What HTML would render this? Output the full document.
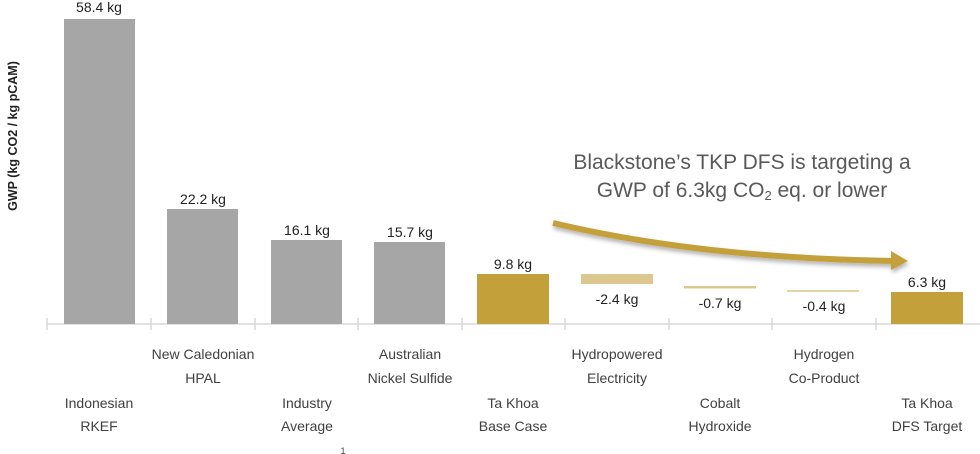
<!DOCTYPE html>
<html><head><meta charset="utf-8"><style>
html,body{margin:0;padding:0;background:#fff;}
svg{display:block;}
text{font-family:"Liberation Sans",sans-serif;}
</style></head><body>
<svg width="980" height="454" viewBox="0 0 980 454" xmlns="http://www.w3.org/2000/svg">
<defs>
<filter id="sh" x="-10%" y="-50%" width="120%" height="200%">
<feDropShadow dx="1" dy="3" stdDeviation="2" flood-color="#000" flood-opacity="0.3"/>
</filter>
</defs>
<line x1="47" y1="324" x2="980" y2="324" stroke="#d9d9d9" stroke-width="1.5"/>
<g stroke="#d9d9d9" stroke-width="1.5">
<line x1="47" y1="318" x2="47" y2="330"/><line x1="151" y1="318" x2="151" y2="330"/>
<line x1="255" y1="318" x2="255" y2="330"/><line x1="358" y1="318" x2="358" y2="330"/>
<line x1="462" y1="318" x2="462" y2="330"/><line x1="565" y1="318" x2="565" y2="330"/>
<line x1="669" y1="318" x2="669" y2="330"/><line x1="772" y1="318" x2="772" y2="330"/>
<line x1="876" y1="318" x2="876" y2="330"/>
</g>
<rect x="64" y="19" width="71" height="305" fill="#a6a6a6"/>
<rect x="167" y="209" width="71" height="115" fill="#a6a6a6"/>
<rect x="271" y="240" width="71" height="84" fill="#a6a6a6"/>
<rect x="374" y="242" width="71" height="82" fill="#a6a6a6"/>
<rect x="477" y="274" width="72" height="50" fill="#c4a03a"/>
<rect x="581" y="274" width="72" height="10" fill="#dcc88e"/>
<rect x="684" y="286" width="72" height="2.5" fill="#dcc88e"/>
<rect x="787" y="290" width="72" height="2" fill="#e3d3a3"/>
<rect x="891" y="292" width="72" height="32" fill="#c4a03a"/>
<g font-size="14" fill="#222" text-anchor="middle">
<text x="99" y="12">58.4 kg</text>
<text x="203" y="204">22.2 kg</text>
<text x="307" y="235">16.1 kg</text>
<text x="410" y="237">15.7 kg</text>
<text x="513" y="269">9.8 kg</text>
<text x="617" y="304">-2.4 kg</text>
<text x="720" y="308">-0.7 kg</text>
<text x="824" y="311">-0.4 kg</text>
<text x="927" y="287">6.3 kg</text>
</g>
<g font-size="14" fill="#404040" text-anchor="middle">
<text x="99" y="408">Indonesian</text><text x="99" y="431">RKEF</text>
<text x="203" y="359">New Caledonian</text><text x="203" y="383">HPAL</text>
<text x="307" y="408">Industry</text><text x="307" y="431">Average</text>
<text x="343" y="454" font-size="9">1</text>
<text x="410" y="359">Australian</text><text x="410" y="383">Nickel Sulfide</text>
<text x="513" y="408">Ta Khoa</text><text x="513" y="431">Base Case</text>
<text x="617" y="359">Hydropowered</text><text x="617" y="383">Electricity</text>
<text x="720" y="408">Cobalt</text><text x="720" y="431">Hydroxide</text>
<text x="824" y="359">Hydrogen</text><text x="824" y="383">Co-Product</text>
<text x="927" y="408">Ta Khoa</text><text x="927" y="431">DFS Target</text>
</g>
<text transform="translate(17,136) rotate(-90)" font-size="12.5" font-weight="bold" fill="#222" text-anchor="middle">GWP (kg CO2 / kg pCAM)</text>
<g font-size="21" fill="#595959" text-anchor="middle">
<text x="742" y="169">Blackstone’s TKP DFS is targeting a</text>
<text x="742" y="197">GWP of 6.3kg CO<tspan font-size="13" dy="3">2</tspan><tspan dy="-3"> eq. or lower</tspan></text>
</g>
<g filter="url(#sh)">
<path d="M553,223 Q700,258 895,261" fill="none" stroke="#c4a03a" stroke-width="6"/>
<polygon points="891,251 908,261 891,270" fill="#c4a03a"/>
</g>
</svg>
</body></html>
